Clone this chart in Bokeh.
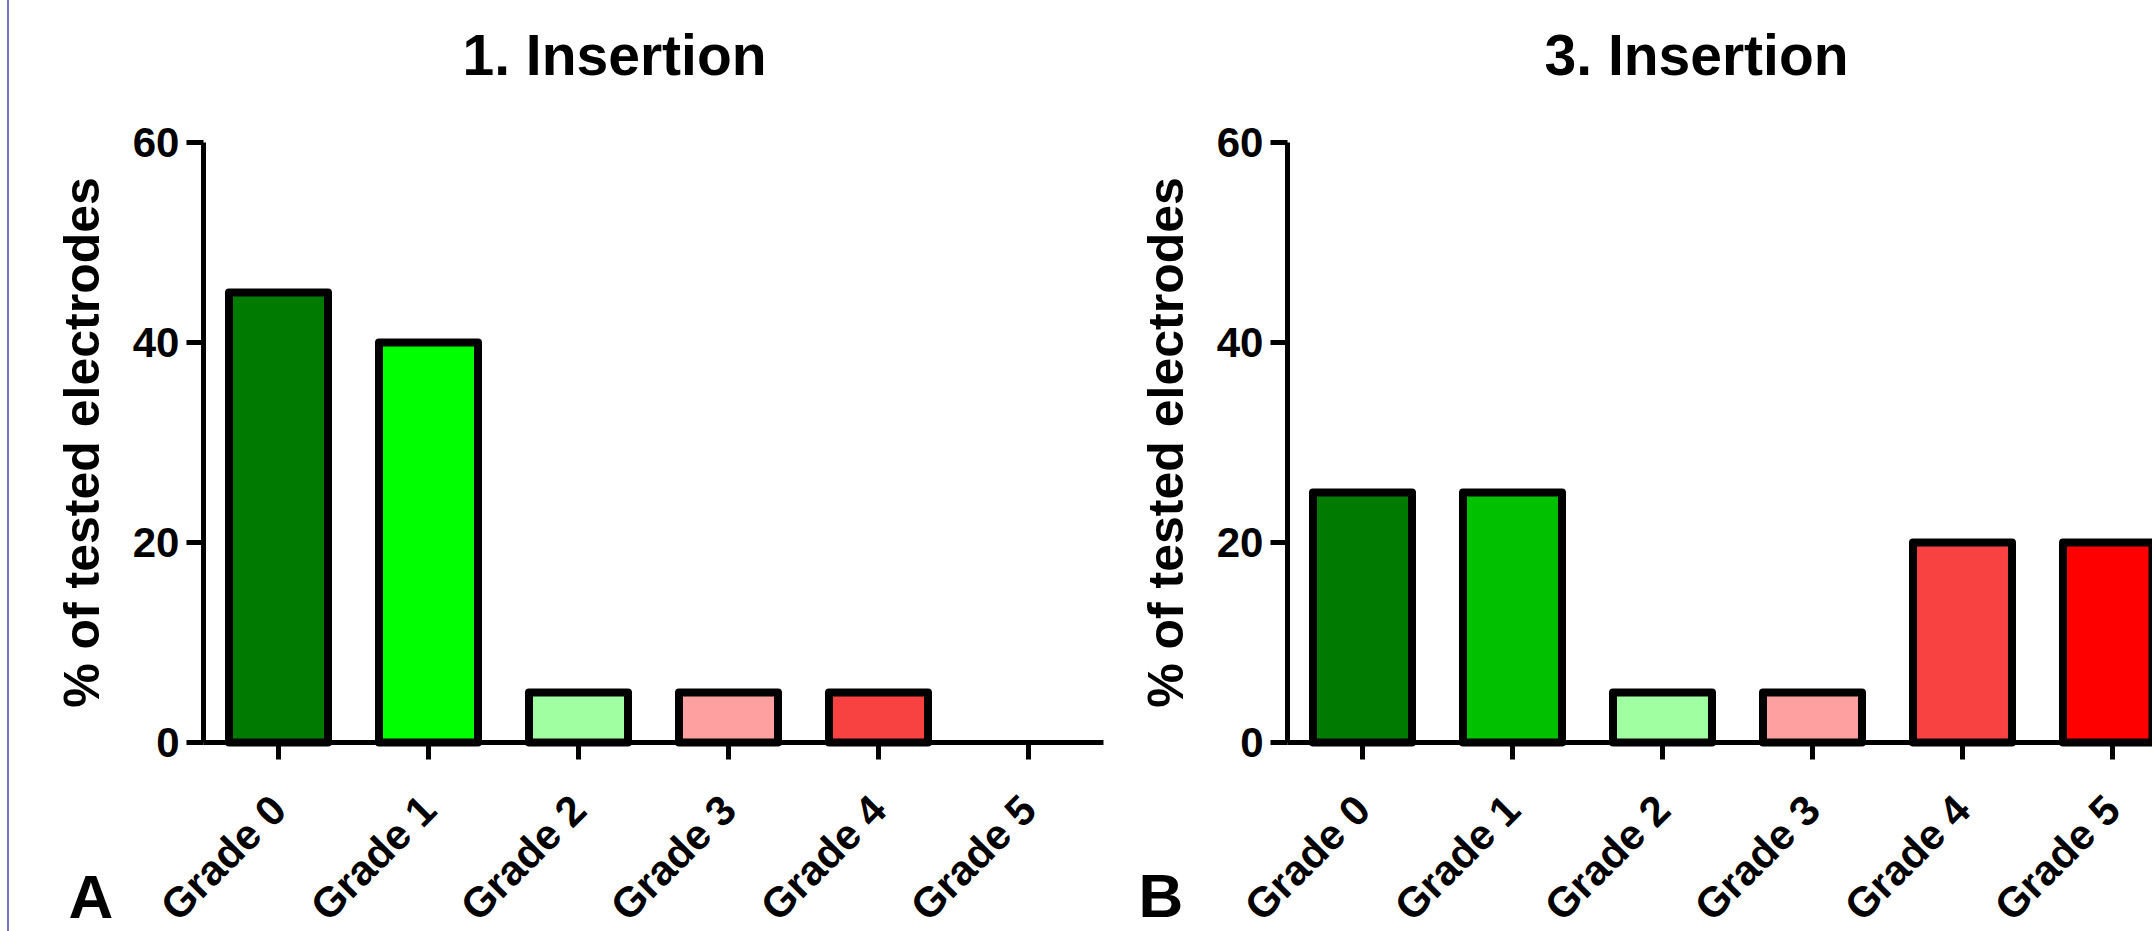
import math
from bokeh.plotting import figure
from bokeh.layouts import row
from bokeh.models import FixedTicker, Label, ColumnDataSource
from bokeh.embed import file_html
from bokeh.resources import INLINE

categories = ["Grade 0", "Grade 1", "Grade 2", "Grade 3", "Grade 4", "Grade 5"]
values_a = [45, 40, 5, 5, 5, 0]
values_b = [25, 25, 5, 5, 20, 20]
colors_a = ["#007A00", "#00FF00", "#A0FFA0", "#FFA0A0", "#F84141", "#FF0000"]
colors_b = ["#007A00", "#00C000", "#A0FFA0", "#FFA0A0", "#F84141", "#FF0000"]
y_ticks = [0, 20, 40, 60]
titles = ["1. Insertion", "3. Insertion"]
letters = ["A", "B"]
y_label = "% of tested electrodes"

FONT = "Liberation Sans"
H = 931


def make_panel(values, colors, title, letter, width, x_range, title_x, letter_xy):
    # frame fills the whole canvas; axes are pinned at fixed data locations
    p = figure(width=width, height=H, x_range=x_range, y_range=(-18.9, 74.2),
               output_backend="svg", toolbar_location=None, tools="",
               min_border=0, min_border_left=0, min_border_right=0,
               min_border_top=0, min_border_bottom=0)
    p.outline_line_color = None
    p.xgrid.visible = False
    p.ygrid.visible = False
    p.background_fill_color = "white"
    p.border_fill_color = "white"

    idx = list(range(len(categories)))
    src = ColumnDataSource(dict(
        x=idx, top=values, color=colors,
        lc=["black" if v > 0 else None for v in values],
    ))
    p.vbar(x="x", top="top", bottom=0, width=0.66, source=src,
           fill_color="color", line_color="lc", line_width=8, line_join="round")

    # x axis
    xa = p.xaxis[0]
    xa.fixed_location = 0
    xa.bounds = (-0.5, len(categories) - 0.5)
    xa.ticker = FixedTicker(ticks=idx)
    xa.major_label_overrides = {i: c for i, c in zip(idx, categories)}
    xa.major_label_orientation = math.pi / 4
    xa.major_label_text_font = FONT
    xa.major_label_text_font_style = "bold"
    xa.major_label_text_font_size = "42px"
    xa.major_label_text_color = "black"
    xa.major_label_standoff = 43
    xa.axis_line_width = 5
    xa.axis_line_color = "black"
    xa.major_tick_line_width = 5
    xa.major_tick_out = 17
    xa.major_tick_in = 0
    xa.minor_tick_line_color = None

    # y axis
    ya = p.yaxis[0]
    ya.fixed_location = -0.5
    ya.bounds = (y_ticks[0], y_ticks[-1])
    ya.ticker = FixedTicker(ticks=y_ticks)
    ya.major_label_text_font = FONT
    ya.major_label_text_font_style = "bold"
    ya.major_label_text_font_size = "42px"
    ya.major_label_text_color = "black"
    ya.major_label_standoff = 7
    ya.axis_line_width = 5
    ya.axis_line_color = "black"
    ya.major_tick_line_width = 5
    ya.major_tick_out = 17
    ya.major_tick_in = 0
    ya.minor_tick_line_color = None
    ya.axis_label = y_label
    ya.axis_label_text_font = FONT
    ya.axis_label_text_font_style = "bold"
    ya.axis_label_text_font_size = "50px"
    ya.axis_label_text_color = "black"
    ya.axis_label_standoff = 20

    p.add_layout(Label(x=title_x, y=68.8, text=title, text_align="center",
                       text_baseline="alphabetic", text_font=FONT,
                       text_font_style="bold", text_font_size="57px",
                       text_color="black"))
    p.add_layout(Label(x=letter_xy[0], y=letter_xy[1], text=letter,
                       text_align="left", text_baseline="alphabetic",
                       text_font=FONT, text_font_style="bold",
                       text_font_size="62px", text_color="black"))
    return p


pA = make_panel(values_a, colors_a, titles[0], letters[0], 1111,
                (-1.7933, 5.6133), 2.24, (-1.40, -15.4))
pB = make_panel(values_b, colors_b, titles[1], letters[1], 1032,
                (-1.6133, 5.2667), 2.227, (-1.493, -15.3))

p = row(pA, pB,
        styles={"margin-left": "7px", "border-left": "2px solid #7474C8",
                "overflow": "hidden"})

open("out.html", "w").write(file_html(p, INLINE))
